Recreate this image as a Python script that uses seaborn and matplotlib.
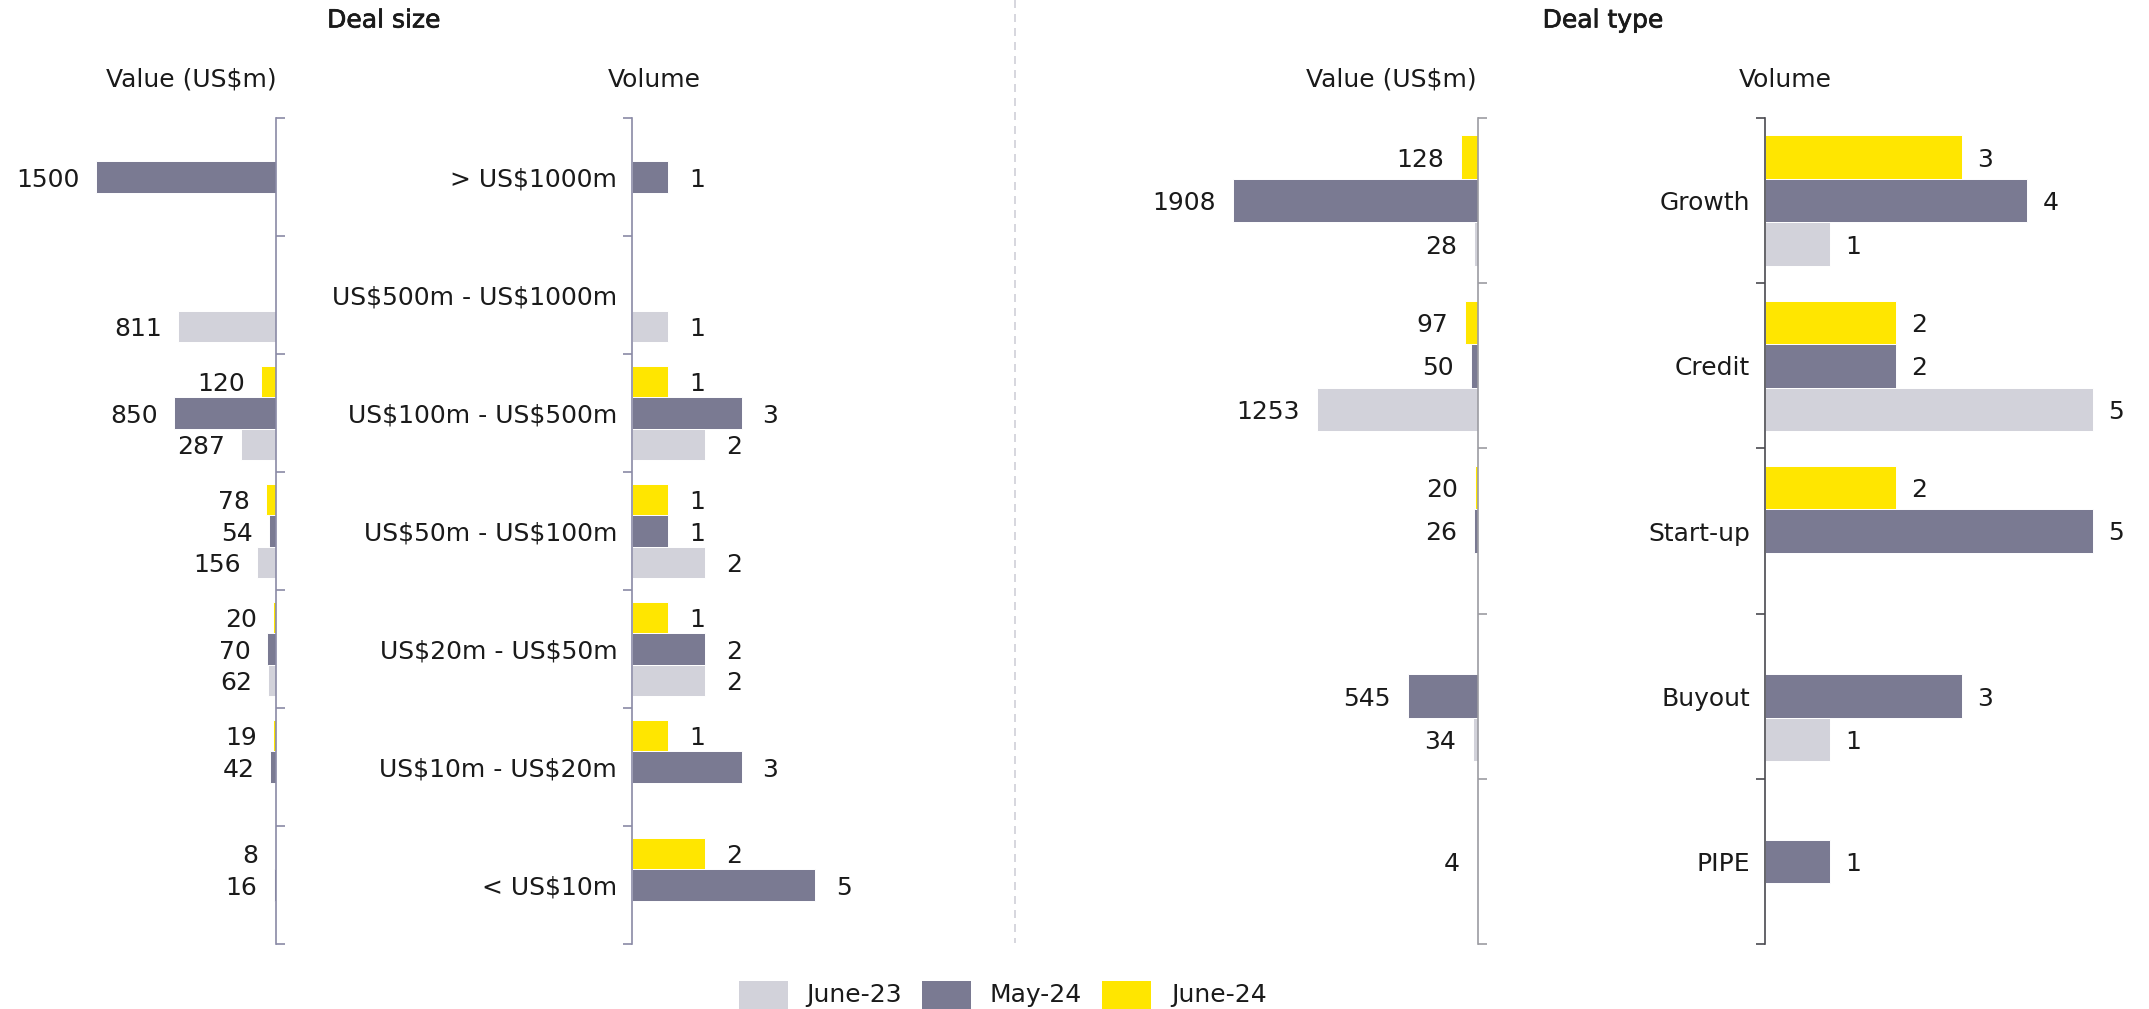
import numpy as np
import pandas as pd
import matplotlib
matplotlib.use("Agg")
import matplotlib.pyplot as plt
import matplotlib.patheffects as pe
from matplotlib.patches import Rectangle
from matplotlib.lines import Line2D
import seaborn as sns

# ---------------------------------------------------------------- data
legend_periods = ["June-23", "May-24", "June-24"]
stack_order = ["June-24", "May-24", "June-23"]          # top to bottom inside a group
period_colors = {"June-23": "#D2D2DA", "May-24": "#7A7A92", "June-24": "#FFE600"}

size_categories = ["> US$1000m", "US$500m - US$1000m", "US$100m - US$500m",
                   "US$50m - US$100m", "US$20m - US$50m", "US$10m - US$20m", "< US$10m"]
size_value_jun23 = [None, 811, 287, 156, 62, None, None]
size_value_may24 = [1500, None, 850, 54, 70, 42, 16]
size_value_jun24 = [None, None, 120, 78, 20, 19, 8]
size_volume_jun23 = [None, 1, 2, 2, 2, None, None]
size_volume_may24 = [1, None, 3, 1, 2, 3, 5]
size_volume_jun24 = [None, None, 1, 1, 1, 1, 2]

type_categories = ["Growth", "Credit", "Start-up", "Buyout", "PIPE"]
type_value_jun23 = [28, 1253, None, 34, None]
type_value_may24 = [1908, 50, 26, 545, 4]
type_value_jun24 = [128, 97, 20, None, None]
type_volume_jun23 = [1, 5, None, 1, None]
type_volume_may24 = [4, 2, 5, 3, 1]
type_volume_jun24 = [3, 2, 2, None, None]


def long_frame(categories, jun23, may24, jun24):
    rows = []
    for period, values in (("June-23", jun23), ("May-24", may24), ("June-24", jun24)):
        for cat, v in zip(categories, values):
            if v is not None:
                rows.append({"category": cat, "period": period, "value": v})
    return pd.DataFrame(rows)


size_value = long_frame(size_categories, size_value_jun23, size_value_may24, size_value_jun24)
size_volume = long_frame(size_categories, size_volume_jun23, size_volume_may24, size_volume_jun24)
type_value = long_frame(type_categories, type_value_jun23, type_value_may24, type_value_jun24)
type_volume = long_frame(type_categories, type_volume_jun23, type_volume_may24, type_volume_jun24)

# ---------------------------------------------------------------- style
sns.set_theme(style="white")
plt.rcParams["font.family"] = ["DejaVu Sans"]
plt.rcParams["text.parse_math"] = False      # labels contain literal dollar signs
TEXT = "#1a1a1a"
FS = 18

W, H = 2149, 1009
fig = plt.figure(figsize=(W / 100, H / 100), dpi=100)
fig.patch.set_facecolor("white")


def px_axes(x0, x1, y_top, y_bottom):
    ax = fig.add_axes([x0 / W, 1 - y_bottom / H, (x1 - x0) / W, (y_bottom - y_top) / H])
    ax.set_facecolor("none")
    return ax


def draw_panel(ax, df, categories, xmax, flip, spine_color, label_pad, show_names):
    sns.barplot(data=df, y="category", x="value", hue="period", order=categories,
                hue_order=stack_order, palette=period_colors, saturation=1,
                orient="h", width=0.79, edgecolor="white", linewidth=0.7,
                errorbar=None, legend=False, ax=ax)
    n = len(categories)
    ax.set_ylim(n - 0.5, -0.5)
    ax.set_xlim(0, xmax)
    if flip:
        ax.invert_xaxis()
    ax.set_xlabel("")
    ax.set_ylabel("")
    ax.set_xticks([])
    for s in ax.spines.values():
        s.set_visible(False)
    side = "right" if flip else "left"
    ax.spines[side].set_visible(True)
    ax.spines[side].set_color(spine_color)
    ax.spines[side].set_linewidth(1.2)

    ax.set_yticks(np.arange(-0.5, n, 1.0), minor=True)
    ax.tick_params(axis="y", which="minor", length=6.2, width=1.2,
                   color=spine_color, direction="out",
                   left=not flip, right=flip)
    ax.tick_params(axis="y", which="major", length=0, pad=10.5,
                   labelsize=FS, labelcolor=TEXT,
                   left=not flip, right=flip,
                   labelleft=show_names, labelright=False)

    for cont in ax.containers:
        vals = list(cont.datavalues)
        if not vals:
            continue
        anns = ax.bar_label(cont, labels=[f"{v:.0f}" for v in vals],
                            padding=label_pad, fontsize=FS, color=TEXT)
        for a in anns:
            a.set_va("center_baseline")


# axes spans in pixels: (left, right, top, bottom)
TOP, BOTTOM = 118, 944
ax1 = px_axes(11.9, 275.5, TOP, BOTTOM)
ax2 = px_axes(631.8, 961.2, TOP, BOTTOM)
ax3 = px_axes(1092.8, 1477.7, TOP, BOTTOM)
ax4 = px_axes(1764.7, 2132.6, TOP, BOTTOM)

draw_panel(ax1, size_value, size_categories, 2200, True, "#8A8AA6", 11.5, False)
draw_panel(ax2, size_volume, size_categories, 9, False, "#8A8AA6", 15, True)
draw_panel(ax3, type_value, type_categories, 3000, True, "#9C9CA2", 12.5, False)
draw_panel(ax4, type_volume, type_categories, 5.6, False, "#4A4A50", 11, True)

# ---------------------------------------------------------------- headings
semibold = [pe.withStroke(linewidth=0.5, foreground=TEXT)]
fig.text(384 / W, 1 - 27.5 / H, "Deal size", ha="center", va="baseline",
         fontsize=FS, color=TEXT, path_effects=semibold)
fig.text(1603 / W, 1 - 27.5 / H, "Deal type", ha="center", va="baseline",
         fontsize=FS, color=TEXT, path_effects=semibold)
for x, label in ((191, "Value (US$m)"), (654, "Volume"),
                 (1391, "Value (US$m)"), (1785, "Volume")):
    fig.text(x / W, 1 - 86.7 / H, label, ha="center", va="baseline",
             fontsize=FS, color=TEXT)

# dashed divider between the two halves
fig.add_artist(Line2D([1015.3 / W, 1015.3 / W], [1.0, 1 - 943 / H],
                      transform=fig.transFigure, color="#D0D0D8", lw=1.2,
                      dashes=(4.8, 3.6)))

# ---------------------------------------------------------------- legend
legend_items = {"June-23": (738.6, 806), "May-24": (921.9, 990), "June-24": (1101.8, 1171)}
for period in legend_periods:
    px0, tx = legend_items[period]
    fig.add_artist(Rectangle((px0 / W, -0.01), 49.5 / W, (1009 - 980.7) / H + 0.01,
                             transform=fig.transFigure, facecolor=period_colors[period],
                             edgecolor="none"))
    fig.text(tx / W, 7.3 / H, period, ha="left", va="baseline",
             fontsize=FS, color=TEXT)

fig.savefig("out.png", dpi=100, facecolor="white")
